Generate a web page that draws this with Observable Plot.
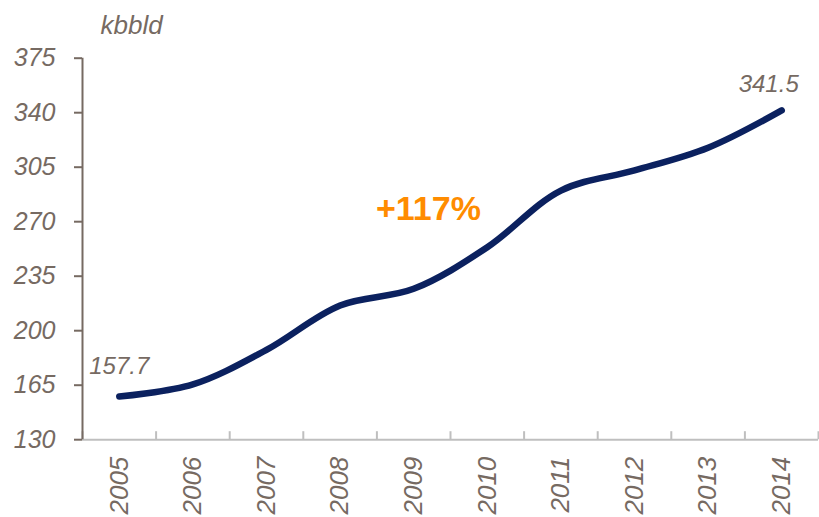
<!DOCTYPE html>
<html><head><meta charset="utf-8">
<script src="https://cdn.jsdelivr.net/npm/d3@7"></script>
<script src="https://cdn.jsdelivr.net/npm/@observablehq/plot@0.6"></script>
<style>body{margin:0;background:#fff}</style>
</head><body><div id="chart"></div>
<script>
const years = [2005, 2006, 2007, 2008, 2009, 2010, 2011, 2012, 2013, 2014];
const values = [157.7, 165.5, 187.7, 216.2, 226.9, 253.6, 290.0, 302.9, 317.5, 341.5];
const yTicks = [130, 165, 200, 235, 270, 305, 340, 375];
const unitLabel = ["kbbld"];
const changeLabel = [{year: 2009.2, value: 278, text: "+117%"}];

const data = years.map((year, i) => ({year, value: values[i]}));
const bounds = years.map(y => y - 0.5).concat([years[years.length - 1] + 0.5]);
const font = "'Liberation Sans', Arial, sans-serif";
const textColor = "#766a62";

const plot = Plot.plot({
  width: 819, height: 517,
  marginLeft: 82, marginRight: 1, marginTop: 57.7, marginBottom: 77.8,
  style: {fontFamily: font, background: "#fff", overflow: "visible"},
  x: {domain: [bounds[0], bounds[bounds.length - 1]], label: null},
  y: {domain: [yTicks[0], yTicks[yTicks.length - 1]], label: null},
  marks: [
    Plot.ruleY([yTicks[0]], {stroke: "#bfbfbf", strokeWidth: 2}),
    Plot.axisX({ticks: bounds, tickSize: -8, tickFormat: () => "", stroke: "#bfbfbf", strokeWidth: 2, label: null}),
    Plot.text(data, {x: "year", y: () => yTicks[0], text: d => String(d.year), rotate: -90, textAnchor: "end", lineAnchor: "middle", dy: 17, fontSize: 26, fontStyle: "italic", fill: textColor}),
    Plot.ruleX([bounds[0]], {y1: yTicks[0], y2: yTicks[yTicks.length - 1], stroke: textColor, strokeWidth: 2}),
    Plot.axisY({ticks: yTicks, tickSize: 8, tickPadding: 19, fontSize: 25, fontStyle: "italic", color: textColor, strokeWidth: 2, label: null}),
    Plot.line(data, {x: "year", y: "value", curve: "catmull-rom", stroke: "#0b215f", strokeWidth: 6.5, strokeLinecap: "round", strokeLinejoin: "round"}),
    Plot.text([data[0]], {x: "year", y: "value", text: d => d.value.toFixed(1), lineAnchor: "bottom", dy: -23, fontSize: 24, fontStyle: "italic", fill: textColor}),
    Plot.text([data[data.length - 1]], {x: "year", y: "value", text: d => d.value.toFixed(1), lineAnchor: "bottom", dx: -13, dy: -18, fontSize: 24, fontStyle: "italic", fill: textColor}),
    Plot.text(changeLabel, {x: "year", y: "value", text: "text", fontSize: 34, fontWeight: "bold", fill: "#ff8c00"}),
    Plot.text(unitLabel, {frameAnchor: "top-left", text: d => d, textAnchor: "start", lineAnchor: "bottom", dx: 18, dy: -24.7, fontSize: 26, fontStyle: "italic", fill: textColor})
  ]
});
document.getElementById("chart").appendChild(plot);
</script>
</body></html>
